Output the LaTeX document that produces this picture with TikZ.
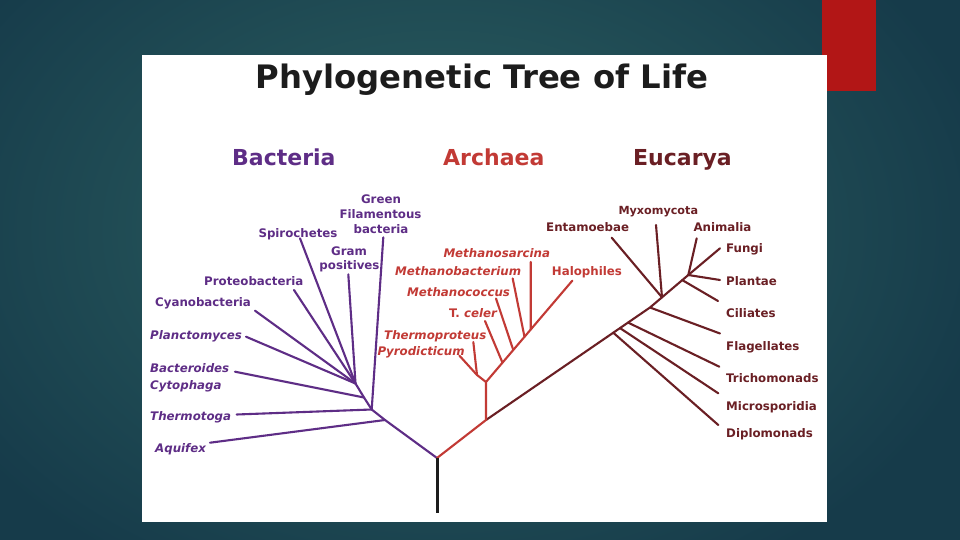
\documentclass[tikz,border=0pt]{standalone}
\usepackage{fontspec}
\setmainfont{DejaVu Sans}[BoldFont={DejaVu Sans Bold},BoldItalicFont={DejaVu Sans Bold Oblique},ItalicFont={DejaVu Sans Oblique}]
\usetikzlibrary{calc}
\definecolor{bgdark}{HTML}{163B4A}
\definecolor{bglight}{HTML}{2D6262}
\definecolor{redbar}{HTML}{B21616}
\definecolor{bcol}{HTML}{5E2D86}
\definecolor{acol}{HTML}{C23A35}
\definecolor{ecol}{HTML}{6A1F24}
\definecolor{titlecol}{HTML}{1C1C1C}
\begin{document}
\begin{tikzpicture}[x=1pt,y=-1pt,
  lab/.style={inner sep=0pt, anchor=base west, font=\fontsize{11.8}{14}\selectfont\bfseries},
  ilab/.style={lab, font=\fontsize{11.8}{14}\selectfont\bfseries\itshape},
  clab/.style={lab, anchor=base},
  hdr/.style={inner sep=0pt, anchor=base west, font=\fontsize{22}{26}\selectfont\bfseries},
  branch/.style={line width=2.1pt, line cap=round, line join=round}]
\useasboundingbox (0,0) rectangle (960,540);
% background
\fill[bgdark] (0,0) rectangle (960,540);
\begin{scope}
\clip (0,0) rectangle (960,540);
\shade[inner color=bglight, outer color=bgdark] (440,230) ellipse [x radius=560pt, y radius=400pt];
\end{scope}
\fill[redbar] (822,0) rectangle (876,91);
\fill[white] (142,55) rectangle (827,522);
% title and headers
\node[inner sep=0pt, anchor=base, font=\fontsize{32.3}{36}\selectfont\bfseries, text=titlecol] (title) at (482,89) {Phylogenetic Tree of Life};
\node[hdr, text=bcol] (hB) at (232,166) {Bacteria};
\node[hdr, text=acol] (hA) at (443,166) {Archaea};
\node[hdr, text=ecol] (hE) at (633,166) {Eucarya};
% coordinates
\coordinate (root) at (437,458);
\coordinate (tbot) at (437,512.5);
% bacteria
\coordinate (bAq) at (385,420);
\coordinate (bTh) at (371.7,409.5);
\coordinate (bBa) at (364,397.5);
\coordinate (bC) at (355.5,383.5);
\coordinate (tAq) at (210,442.7);
\coordinate (tTh) at (236.7,414.5);
\coordinate (tBa) at (235,371.7);
\coordinate (tGF) at (383.3,237.3);
\coordinate (tGP) at (348.3,274.3);
\coordinate (tSp) at (300,238.3);
\coordinate (tPr) at (294,290);
\coordinate (tCy) at (255,310.7);
\coordinate (tPl) at (246,336.7);
% archaea
\coordinate (aE0) at (486,420);
\coordinate (aA0) at (486,382);
\coordinate (aA1) at (477,375);
\coordinate (tPy) at (459.3,355.5);
\coordinate (tTp) at (473.3,342);
\coordinate (tHa) at (572.3,280.7);
\coordinate (jTc) at ($(aA0)!0.191!(tHa)$);
\coordinate (jMc) at ($(aA0)!0.316!(tHa)$);
\coordinate (jMb) at ($(aA0)!0.446!(tHa)$);
\coordinate (jMs) at ($(aA0)!0.518!(tHa)$);
\coordinate (tTc) at (485,321);
\coordinate (tMc) at (496,298.5);
\coordinate (tMb) at (512.7,278.5);
\coordinate (tMs) at (530.7,262);
% eucarya
\coordinate (eF) at (650,307.5);
\coordinate (eTop) at (688.3,275);
\coordinate (jDi) at ($(aE0)!0.776!(eF)$);
\coordinate (jMi) at ($(aE0)!0.817!(eF)$);
\coordinate (jTr) at ($(aE0)!0.866!(eF)$);
\coordinate (jEn) at ($(eF)!0.313!(eTop)$);
\coordinate (jCi) at ($(eF)!0.843!(eTop)$);
\coordinate (tDi) at (718.3,425);
\coordinate (tMi) at (718.3,393.3);
\coordinate (tTr) at (719.3,366.7);
\coordinate (tFl) at (720,333.5);
\coordinate (tCi) at (718,301);
\coordinate (tPt) at (720,280);
\coordinate (tFu) at (720,248.3);
\coordinate (tAn) at (696.7,238.3);
\coordinate (tEn) at (611.7,237.7);
\coordinate (tMy) at (656,225);
% bacteria branches
\draw[branch, bcol] (root) -- (bAq) -- (bTh) -- (bBa) -- (bC);
\draw[branch, bcol] (bAq) -- (tAq);
\draw[branch, bcol] (bTh) -- (tTh);
\draw[branch, bcol] (bTh) -- (tGF);
\draw[branch, bcol] (bBa) -- (tBa);
\draw[branch, bcol] (bC) -- (tGP);
\draw[branch, bcol] (bC) -- (tSp);
\draw[branch, bcol] (bC) -- (tPr);
\draw[branch, bcol] (bC) -- (tCy);
\draw[branch, bcol] (bC) -- (tPl);
% eucarya branches
\draw[branch, ecol] (aE0) -- (eF) -- (eTop);
\draw[branch, ecol] (jDi) -- (tDi);
\draw[branch, ecol] (jMi) -- (tMi);
\draw[branch, ecol] (jTr) -- (tTr);
\draw[branch, ecol] (eF) -- (tFl);
\draw[branch, ecol] (jEn) -- (tEn);
\draw[branch, ecol] (jEn) -- (tMy);
\draw[branch, ecol] (jCi) -- (tCi);
\draw[branch, ecol] (eTop) -- (tPt);
\draw[branch, ecol] (eTop) -- (tFu);
\draw[branch, ecol] (eTop) -- (tAn);
% archaea branches
\draw[branch, acol] (root) -- (aE0) -- (aA0) -- (tHa);
\draw[branch, acol] (aA0) -- (aA1) -- (tPy);
\draw[branch, acol] (aA1) -- (tTp);
\draw[branch, acol] (jTc) -- (tTc);
\draw[branch, acol] (jMc) -- (tMc);
\draw[branch, acol] (jMb) -- (tMb);
\draw[branch, acol] (jMs) -- (tMs);
% trunk
\draw[line width=3pt, titlecol] (root) -- (tbot);
% bacteria labels
\node[clab, text=bcol] (lG1) at (381,204) {Green};
\node[clab, text=bcol] (lG2) at (380.5,218.7) {Filamentous};
\node[clab, text=bcol] (lG3) at (381,233.3) {bacteria};
\node[lab, text=bcol] (lSp) at (258.3,237.3) {Spirochetes};
\node[clab, text=bcol] (lGP1) at (349,255) {Gram};
\node[clab, text=bcol] (lGP2) at (349.5,269.3) {positives};
\node[lab, text=bcol] (lPr) at (204,285) {Proteobacteria};
\node[lab, text=bcol] (lCy) at (155,306.7) {Cyanobacteria};
\node[ilab, text=bcol] (lPl) at (150,339.3) {Planctomyces};
\node[ilab, text=bcol] (lBa) at (150,372.3) {Bacteroides};
\node[ilab, text=bcol] (lCt) at (150,389.3) {Cytophaga};
\node[ilab, text=bcol] (lTh) at (150,420.7) {Thermotoga};
\node[ilab, text=bcol] (lAq) at (155,452.7) {Aquifex};
% archaea labels
\node[ilab, text=acol] (lMs) at (443.3,257.7) {Methanosarcina};
\node[ilab, text=acol] (lMb) at (395,275) {Methanobacterium};
\node[lab, text=acol] (lHa) at (551.7,275) {Halophiles};
\node[ilab, text=acol] (lMc) at (407,296) {Methanococcus};
\node[lab, text=acol] (lTc) at (449,317.3) {T. \textit{celer}};
\node[ilab, text=acol] (lTp) at (384,339.3) {Thermoproteus};
\node[ilab, text=acol] (lPy) at (377.3,355) {Pyrodicticum};
% eucarya labels
\node[lab, text=ecol, font=\fontsize{11.2}{13}\selectfont\bfseries] (lMy) at (618.3,214.3) {Myxomycota};
\node[lab, text=ecol] (lEn) at (546,231) {Entamoebae};
\node[lab, text=ecol] (lAn) at (693.3,231) {Animalia};
\node[lab, text=ecol] (lFu) at (726,252.3) {Fungi};
\node[lab, text=ecol] (lPt) at (726,285.7) {Plantae};
\node[lab, text=ecol] (lCi) at (726,317.7) {Ciliates};
\node[lab, text=ecol] (lFl) at (726,350.7) {Flagellates};
\node[lab, text=ecol] (lTr) at (726,382.7) {Trichomonads};
\node[lab, text=ecol] (lMi) at (726,410) {Microsporidia};
\node[lab, text=ecol] (lDi) at (726,437.3) {Diplomonads};
\end{tikzpicture}
\end{document}
